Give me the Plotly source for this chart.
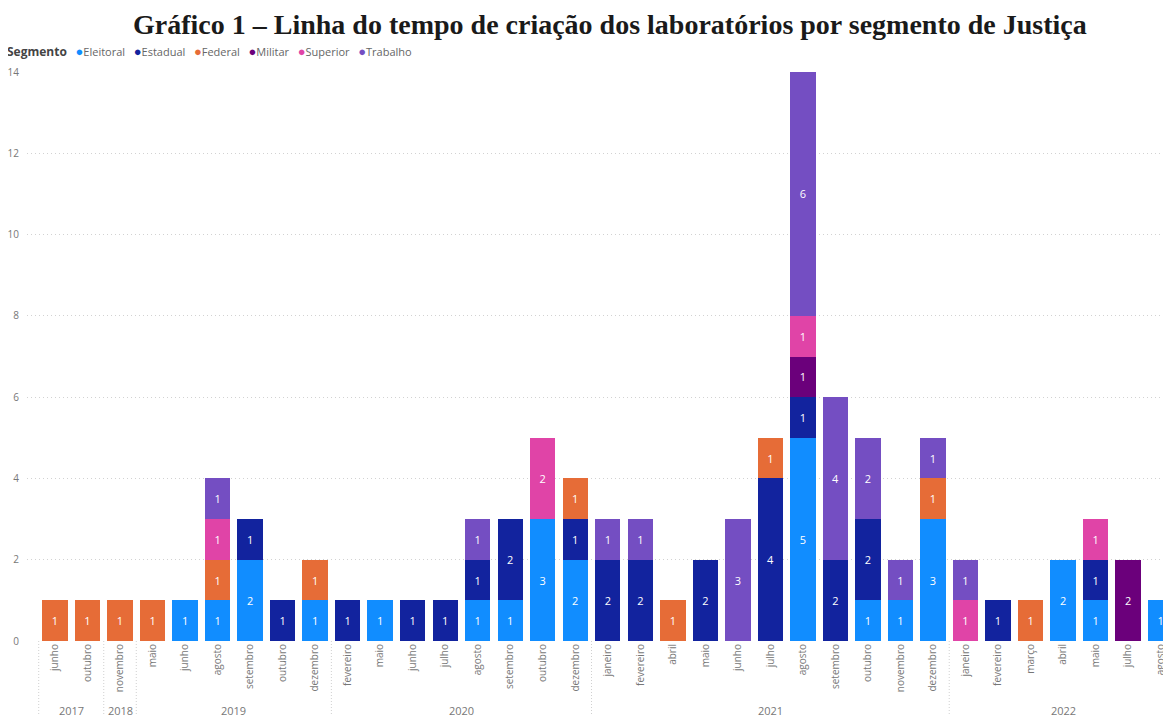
import plotly.graph_objects as go

years = ["2017", "2017", "2018", "2019", "2019", "2019", "2019", "2019", "2019",
         "2020", "2020", "2020", "2020", "2020", "2020", "2020", "2020",
         "2021", "2021", "2021", "2021", "2021", "2021", "2021", "2021", "2021", "2021", "2021",
         "2022", "2022", "2022", "2022", "2022", "2022", "2022"]
months = ["junho", "outubro", "novembro", "maio", "junho", "agosto", "setembro", "outubro", "dezembro",
          "fevereiro", "maio", "junho", "julho", "agosto", "setembro", "outubro", "dezembro",
          "janeiro", "fevereiro", "abril", "maio", "junho", "julho", "agosto", "setembro", "outubro", "novembro", "dezembro",
          "janeiro", "fevereiro", "março", "abril", "maio", "julho", "agosto"]

N = None
eleitoral = [N, N, N, N, 1, 1, 2, N, 1, N, 1, N, N, 1, 1, 3, 2, N, N, N, N, N, N, 5, N, 1, 1, 3, N, N, N, 2, 1, N, 1]
estadual  = [N, N, N, N, N, N, 1, 1, N, 1, N, 1, 1, 1, 2, N, 1, 2, 2, N, 2, N, 4, 1, 2, 2, N, N, N, 1, N, N, 1, N, N]
federal   = [1, 1, 1, 1, N, 1, N, N, 1, N, N, N, N, N, N, N, 1, N, N, 1, N, N, 1, N, N, N, N, 1, N, N, 1, N, N, N, N]
militar   = [N, N, N, N, N, N, N, N, N, N, N, N, N, N, N, N, N, N, N, N, N, N, N, 1, N, N, N, N, N, N, N, N, N, 2, N]
superior  = [N, N, N, N, N, 1, N, N, N, N, N, N, N, N, N, 2, N, N, N, N, N, N, N, 1, N, N, N, N, 1, N, N, N, 1, N, N]
trabalho  = [N, N, N, N, N, 1, N, N, N, N, N, N, N, 1, N, N, N, 1, 1, N, N, 3, N, 6, 4, 2, 1, 1, 1, N, N, N, N, N, N]

segments = ["Eleitoral", "Estadual", "Federal", "Militar", "Superior", "Trabalho"]
series = [eleitoral, estadual, federal, militar, superior, trabalho]
colors = ["#118DFF", "#12239E", "#E66C37", "#6B007B", "#E044A7", "#744EC2"]

xpos = list(range(len(months)))

fig = go.Figure()
for name, vals, col in zip(segments, series, colors):
    fig.add_trace(go.Bar(
        x=xpos, y=vals, name=name,
        customdata=[f"{m} {y}" for m, y in zip(months, years)],
        hovertemplate="%{customdata}<br>" + name + ": %{y}<extra></extra>",
        marker=dict(color=col, line=dict(width=0)),
        text=[str(v) if v else "" for v in vals],
        textposition="inside", insidetextanchor="middle", textangle=0,
        constraintext="none",
        textfont=dict(color="white", size=11, family="Open Sans"),
        showlegend=False,
    ))

# legend as a compact text line (Power BI style)
legend_html = "<b><span style='font-size:12px'>Segmento</span></b>&nbsp;&nbsp; " + "&nbsp;&nbsp; ".join(
    f"<span style='color:{c};font-size:13px'>●</span><span style='color:#666666'>{s}</span>"
    for s, c in zip(segments, colors))
fig.add_annotation(text=legend_html, xref="paper", yref="paper", x=0, y=1,
                   xanchor="left", yanchor="bottom", showarrow=False,
                   xshift=-22, yshift=10,
                   font=dict(family="Open Sans", size=11, color="#444444"))

# year group labels and separators
groups = []
for i, y in enumerate(years):
    if groups and groups[-1][0] == y:
        groups[-1][2] = i
    else:
        groups.append([y, i, i])
for y, a, b in groups:
    fig.add_annotation(text=y, xref="x", yref="paper", x=(a + b) / 2, y=0,
                       yshift=-69, showarrow=False, xanchor="center", yanchor="middle",
                       font=dict(family="Open Sans", size=11, color="#777777"))
    fig.add_shape(type="line", xref="x", yref="paper", x0=a - 0.5, x1=a - 0.5,
                  y0=0, y1=-0.14, line=dict(color="#d0d0d0", width=1, dash="1px,2px"))

fig.update_layout(
    width=1171, height=716,
    margin=dict(l=19, r=8, t=64, b=83, autoexpand=False),
    plot_bgcolor="white", paper_bgcolor="white",
    barmode="stack", bargap=0.22,
    title=dict(text="<b>Gráfico 1 – Linha do tempo de criação dos laboratórios por segmento de Justiça</b>",
               x=0.514, xanchor="center", y=0.991, yanchor="top",
               font=dict(family="Liberation Serif", size=28, color="#1a1a1a")),
    font=dict(family="Open Sans", color="#777777"),
)
fig.update_yaxes(range=[0, 14], dtick=2, showgrid=True, gridcolor="#d2d2d2", griddash="1px,3px",
                 zeroline=False, showline=False, automargin=False, ticklabelstandoff=7,
                 tickfont=dict(size=10, color="#777777"))
fig.update_xaxes(range=[-0.86, 34.32], tickangle=-90, tickmode="array",
                 tickvals=xpos, ticktext=months, automargin=False,
                 tickfont=dict(size=10, color="#777777"), showgrid=False,
                 zeroline=False, showline=False)

fig.write_html("out.html")
